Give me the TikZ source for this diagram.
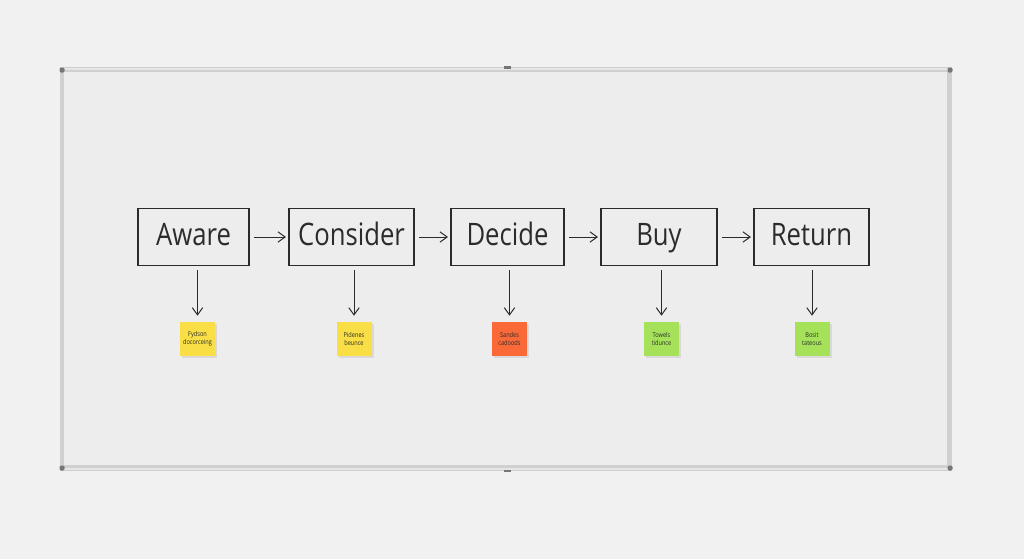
\documentclass[tikz,border=0pt]{standalone}
\usepackage{fontspec}
\newfontfamily\handfont[FakeStretch=0.83]{Open Sans}
\usetikzlibrary{arrows.meta,shadows}

\definecolor{wall}{HTML}{F1F1F1}
\definecolor{board}{HTML}{EDEDED}
\definecolor{rim}{HTML}{D0D0D0}
\definecolor{rimlight}{HTML}{E6E6E6}
\definecolor{capgray}{HTML}{767676}
\definecolor{ink}{HTML}{2B2B2B}
\definecolor{noteyellow}{HTML}{F9DF45}
\definecolor{noteorange}{HTML}{FA6A38}
\definecolor{notegreen}{HTML}{A5E25A}

\tikzset{
  stage/.style={draw=ink, line width=0.9pt, minimum height=1.425cm, inner sep=0pt,
    text height=16pt, text depth=4pt,
    text=ink, font=\handfont\fontsize{22}{24}\selectfont},
  flow/.style={draw=ink, line width=0.7pt, arrows={-Straight Barb[length=1.8mm,width=2.6mm]}},
  sticky/.style={minimum width=0.875cm, minimum height=0.85cm, inner sep=0pt, align=center,
    text=ink, font=\handfont\fontsize{4.8}{5.6}\selectfont,
    drop shadow={shadow xshift=0.06cm, shadow yshift=-0.04cm, opacity=0.18}}
}

\begin{document}
\begin{tikzpicture}[x=0.025cm,y=-0.025cm]

% wall
\fill[wall] (0,0) rectangle (1024,559);
\useasboundingbox (0,0) rectangle (1024,559);

% whiteboard with frame
\fill[black!6] (62,70) rectangle (954,474);
\fill[rim] (60,67) rectangle (952,471);
\fill[rimlight] (61,68) rectangle (951,70);
\fill[rimlight] (61,468) rectangle (951,470);
\fill[board] (64,72) rectangle (947,465);
\foreach \cx/\cy in {62/70,950/70,62/468,950/468} {
  \fill[capgray, rounded corners=1pt] (\cx-2.5,\cy-2.5) rectangle (\cx+2.5,\cy+2.5);
}
\fill[capgray] (504,66) rectangle (511,68.5);
\fill[capgray] (504,469.5) rectangle (511,472);

% stages
\foreach \name/\x/\w/\txt in {
  aware/193.5/2.775cm/Aware,
  consider/351.5/3.125cm/Consider,
  decide/507.5/2.825cm/Decide,
  buy/659/2.9cm/Buy,
  return/811.5/2.875cm/Return}
{
  \node[stage, minimum width=\w] (\name) at (\x,237) {\txt};
}

\foreach \a/\b in {aware/consider,consider/decide,decide/buy,buy/return} {
  \draw[flow, shorten <=0.12cm, shorten >=0.06cm] (\a) -- (\b);
}

% sticky notes
\foreach \i/\x/\col/\txt/\stage in {
  1/197.5/noteyellow/{Fydson\\docorceing}/aware,
  2/354/noteyellow/{Pidenes\\beunce}/consider,
  3/509.5/noteorange/{Sandes\\cadoods}/decide,
  4/661.5/notegreen/{Towels\\tidunce}/buy,
  5/812/notegreen/{Bosit\\tateous}/return}
{
  \node[sticky, fill=\col] (note\i) at (\x,339) {\txt};
  \draw[flow, shorten <=0.1cm, shorten >=0.15cm] (\stage.south -| note\i.north) -- (note\i.north);
}

\end{tikzpicture}
\end{document}
